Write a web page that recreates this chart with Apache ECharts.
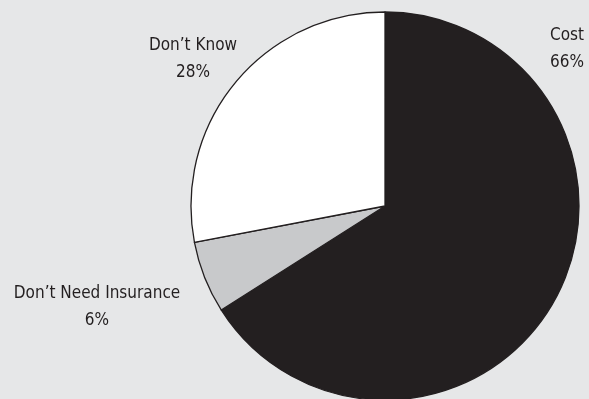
<!DOCTYPE html>
<html>
<head>
<meta charset="utf-8">
<script src="https://cdn.jsdelivr.net/npm/echarts@6/dist/echarts.min.js"></script>
<style>
  html, body { margin: 0; padding: 0; background: #e6e7e8; }
  #chart { width: 589px; height: 399px; }
</style>
</head>
<body>
<div id="chart"></div>
<script>
// Reasons for not having insurance
const categories = ['Cost', 'Don\u2019t Need Insurance', 'Don\u2019t Know'];
const shares = [66, 6, 28];
const sliceColors = ['#231f20', '#c8c9cb', '#ffffff'];

// Label anchor points (centre of each two-line label), by slice
const labelAnchors = [[567, 49], [97, 307], [193, 59]];

const chart = echarts.init(document.getElementById('chart'), null, { renderer: 'canvas' });

chart.setOption({
  backgroundColor: '#e6e7e8',
  animation: false,
  series: [{
    type: 'pie',
    center: [385, 206],
    radius: [0, 194],
    startAngle: 90,
    clockwise: true,
    avoidLabelOverlap: false,
    data: categories.map((name, i) => ({
      name: name,
      value: shares[i],
      itemStyle: { color: sliceColors[i] }
    })),
    itemStyle: { borderColor: '#231f20', borderWidth: 1.3 },
    emphasis: { disabled: true },
    labelLine: { show: false },
    label: {
      show: true,
      position: 'outside',
      overflow: 'none',
      formatter: p => p.name + '\n' + p.value + '%',
      fontFamily: '"Liberation Sans Narrow", "DejaVu Sans Condensed", sans-serif',
      fontSize: 17,
      lineHeight: 27,
      color: '#231f20',
      align: 'center'
    },
    labelLayout: params => ({
      x: labelAnchors[params.dataIndex][0],
      y: labelAnchors[params.dataIndex][1],
      align: 'center',
      verticalAlign: 'middle',
      hideOverlap: false
    })
  }]
});
</script>
</body>
</html>
